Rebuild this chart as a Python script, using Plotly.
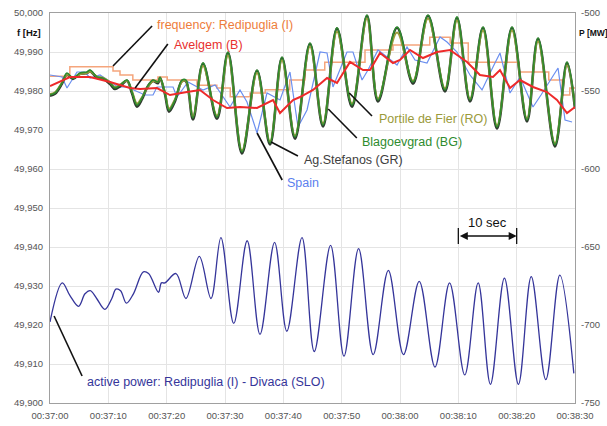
import pandas as pd
import plotly.graph_objects as go

# ---------------- data ----------------
BASE = pd.Timestamp("2009-01-01 00:37:00")

# frequency: Redipuglia (I) - step trace (s, Hz)
redi_t = [0, 3.4, 10.8, 12.0, 14.2, 18.5, 20.1, 25.2, 28.6, 30.9, 34.3, 36.9, 41.1, 43.7,
          47.1, 54.0, 58.8, 65.1, 68.6, 71.7, 80.4, 85.5, 87.8, 89.1, 90.0]
redi_f = [49.9838, 49.9862, 49.9851, 49.9841, 49.9828, 49.9836, 49.9828, 49.9815, 49.9808,
          49.9785, 49.9795, 49.9803, 49.9828, 49.9854, 49.9874, 49.9905, 49.9918, 49.9938,
          49.9923, 49.9874, 49.9849, 49.9828, 49.9790, 49.9808, 49.9808]

# Avelgem (B)
avel_t = [0, 2.23, 3.43, 6.86, 10.29, 13.71, 15.43, 18.34, 20.57, 23.49, 25.71, 27.94, 30.34,
          32.57, 35.49, 38.23, 39.43, 41.66, 42.86, 45.09, 47.49, 49.2, 51.43, 53.66, 54.86,
          56.57, 58.8, 60.0, 61.71, 63.94, 66.34, 68.57, 71.49, 73.71, 75.94, 77.14, 78.86,
          80.57, 82.8, 85.2, 86.91, 88.63, 90.0]
avel_f = [49.98128, 49.98282, 49.98359, 49.98359, 49.98231, 49.98077, 49.98051, 49.98077,
          49.97897, 49.97974, 49.98026, 49.97769, 49.97564, 49.97590, 49.97564, 49.97769,
          49.97436, 49.97769, 49.97846, 49.98026, 49.98333, 49.98205, 49.98744, 49.98538,
          49.98538, 49.98974, 49.98718, 49.98795, 49.99051, 49.98846, 49.99000, 49.99051,
          49.98744, 49.98410, 49.98359, 49.98538, 49.98077, 49.98282, 49.98103, 49.97974,
          49.97769, 49.97436, 49.97590]

# Spain
spain_t = [0, 2.06, 2.91, 4.63, 6.0, 6.86, 8.57, 11.66, 13.2, 16.29, 17.66, 18.34, 21.09,
           21.77, 23.66, 26.23, 28.29, 30.86, 32.57, 33.77, 35.49, 37.2, 39.43, 41.14, 42.51,
           44.06, 46.29, 47.49, 48.51, 50.91, 51.94, 53.49, 54.51, 56.23, 57.77, 59.49, 61.2,
           62.57, 64.63, 66.86, 68.06, 69.77, 72.0, 74.06, 75.94, 77.14, 78.86, 80.57, 82.8,
           84.17, 87.09, 88.29, 89.49]
spain_f = [49.98410, 49.98359, 49.98077, 49.98487, 49.98487, 49.98333, 49.98410, 49.98103,
           49.98103, 49.97897, 49.97897, 49.98103, 49.98103, 49.97846, 49.98231, 49.98026,
           49.98154, 49.97590, 49.98026, 49.97718, 49.96923, 49.97949, 49.97769, 49.98487,
           49.97077, 49.97513, 49.99000, 49.98974, 49.98103, 49.99000, 49.99000, 49.98282,
           49.98538, 49.99051, 49.98872, 49.98667, 49.99128, 49.98795, 49.98718, 49.99385,
           49.99256, 49.99000, 49.98410, 49.98026, 49.98615, 49.98974, 49.97949, 49.98359,
           49.97590, 49.97897, 49.98590, 49.97256, 49.97205]

# green group (Blagoevgrad / Ag.Stefanos / Portile de Fier) share sample times
grn_t = [0, 0.86, 2.06, 2.91, 3.94, 5.14, 6.34, 6.86, 8.06, 9.09,
         10.29, 11.14, 12.0, 13.2, 14.06, 14.91, 15.77, 16.63, 17.66, 18.51,
         18.86, 19.71, 20.4, 21.43, 22.63, 23.31, 24.51, 26.23, 28.63, 30.51,
         32.91, 35.49, 37.71, 39.77, 42.0, 44.57, 46.8, 49.2, 51.77, 54.34,
         56.23, 59.49, 62.23, 64.8, 67.71, 69.77, 72.0, 74.23, 76.63, 79.2,
         81.77, 83.66, 86.57, 88.63, 90.0]
blag_f = [49.9790, 49.9795, 49.9821, 49.9846, 49.9833, 49.9846, 49.9849, 49.9854, 49.9836, 49.9833,
          49.9821, 49.9808, 49.9815, 49.9828, 49.9797, 49.9764, 49.9782, 49.9810, 49.9828, 49.9823,
          49.9836, 49.9795, 49.9751, 49.9777, 49.9828, 49.9828, 49.9731, 49.9872, 49.9733, 49.9900,
          49.9644, 49.9854, 49.9667, 49.9887, 49.9682, 49.9923, 49.9713, 49.9962, 49.9764, 49.9995,
          49.9777, 49.9964, 49.9823, 49.9995, 49.9803, 49.9990, 49.9777, 49.9964, 49.9708, 49.9964,
          49.9726, 49.9936, 49.9662, 49.9874, 49.9759]
stef_f = [49.9788, 49.9793, 49.9819, 49.9843, 49.9831, 49.9844, 49.9846, 49.9851, 49.9834, 49.9831,
          49.9818, 49.9805, 49.9812, 49.9826, 49.9794, 49.9760, 49.9779, 49.9808, 49.9826, 49.9820,
          49.9833, 49.9792, 49.9747, 49.9774, 49.9826, 49.9825, 49.9727, 49.9870, 49.9729, 49.9898,
          49.9640, 49.9852, 49.9663, 49.9885, 49.9678, 49.9921, 49.9709, 49.9960, 49.9760, 49.9993,
          49.9773, 49.9962, 49.9819, 49.9993, 49.9799, 49.9988, 49.9773, 49.9962, 49.9704, 49.9962,
          49.9722, 49.9934, 49.9658, 49.9872, 49.9755]
port_f = [49.9792, 49.9797, 49.9822, 49.9842, 49.9834, 49.9843, 49.9846, 49.9850, 49.9837, 49.9834,
          49.9822, 49.9810, 49.9816, 49.9826, 49.9799, 49.9768, 49.9784, 49.9808, 49.9825, 49.9824,
          49.9833, 49.9797, 49.9755, 49.9779, 49.9824, 49.9826, 49.9735, 49.9864, 49.9737, 49.9891,
          49.9648, 49.9846, 49.9671, 49.9879, 49.9686, 49.9914, 49.9717, 49.9952, 49.9768, 49.9986,
          49.9781, 49.9950, 49.9826, 49.9986, 49.9807, 49.9981, 49.9781, 49.9955, 49.9712, 49.9955,
          49.9730, 49.9927, 49.9666, 49.9866, 49.9762]

# active power: Redipuglia (I) - Divaca (SLO)  (s, MW)
pow_t = [0, 2.1, 3.4, 4.9, 6.0, 6.9, 8.0, 9.4, 10.6, 11.3, 12.1, 13.1, 14.3, 16.0, 16.9, 18.6,
         19.1, 19.7, 21.6, 23.3, 25.6, 27.6, 29.3, 31.5, 33.8, 36.0, 38.5, 40.6, 43.2, 45.3,
         48.1, 50.4, 52.9, 55.4, 58.0, 60.6, 63.3, 66.0, 68.5, 71.1, 73.4, 75.5, 77.9, 80.3,
         82.5, 85.0, 87.4, 89.8]
pow_mw = [-698, -673, -681, -688, -680, -678, -683, -690, -683, -677, -678, -686, -680, -666,
          -667, -679, -673, -673, -667, -683, -656, -683, -644, -699, -646, -706, -647, -704,
          -644, -717, -649, -720, -651, -719, -665, -719, -672, -727, -673, -732, -673, -738,
          -670, -738, -669, -735, -668, -731]

f_ticks = [49.90, 49.91, 49.92, 49.93, 49.94, 49.95, 49.96, 49.97, 49.98, 49.99, 50.00]
f_tick_text = ["49,900", "49,910", "49,920", "49,930", "49,940", "49,950", "49,960",
               "49,970", "49,980", "49,990", "50,000"]
p_ticks = [-750, -700, -650, -600, -550, -500]
p_tick_text = ["-750", "-700", "-650", "-600", "-550", "-500"]


def T(s):
    return BASE + pd.to_timedelta(s, unit="s")


def TS(s):
    return T(s).strftime("%Y-%m-%d %H:%M:%S.%f")


def times(lst):
    return [T(s) for s in lst]


FONT = "Liberation Sans, Arial, sans-serif"
fig = go.Figure()

fig.add_trace(go.Scatter(x=times(redi_t), y=redi_f, mode="lines", line_shape="hv",
                         line=dict(color="#f5a57c", width=1.5), name="Redipuglia"))
fig.add_trace(go.Scatter(x=times(spain_t), y=spain_f, mode="lines",
                         line=dict(color="#6b8ff0", width=1.2), name="Spain"))
fig.add_trace(go.Scatter(x=times(grn_t), y=stef_f, mode="lines", line_shape="spline",
                         line=dict(color="#2f3a2f", width=2.6, smoothing=1.0), name="Ag.Stefanos"))
fig.add_trace(go.Scatter(x=times(grn_t), y=port_f, mode="lines", line_shape="spline",
                         line=dict(color="#9c9a3c", width=2.0, smoothing=1.0), name="Portile de Fier"))
fig.add_trace(go.Scatter(x=times(grn_t), y=blag_f, mode="lines", line_shape="spline",
                         line=dict(color="#2e8b2e", width=1.6, smoothing=1.0), name="Blagoevgrad"))
fig.add_trace(go.Scatter(x=times(avel_t), y=avel_f, mode="lines",
                         line=dict(color="#ee2a2a", width=2), name="Avelgem"))
fig.add_trace(go.Scatter(x=times(pow_t), y=pow_mw, mode="lines", line_shape="spline",
                         line=dict(color="#35359a", width=1.3), name="active power",
                         yaxis="y2"))

# ---- labels with leader lines (positions in data units) ----
labels = [
    ("frequency: Redipuglia (I)", "#ee7d3b", 18.0, 49.99692, (17.5, 49.99667), (10.8, 49.98641)),
    ("Avelgem (B)", "#e8302e", 20.9, 49.99179, (20.2, 49.99205), (14.6, 49.98077)),
    ("Portile de Fier (RO)", "#9a9a3a", 56.1, 49.97282, (55.2, 49.97359), (51.3, 49.97949)),
    ("Blagoevgrad (BG)", "#2e8b2e", 53.1, 49.96692, (52.6, 49.96795), (47.7, 49.97538)),
    ("Ag.Stefanos (GR)", "#404040", 43.2, 49.96231, (42.5, 49.96333), (37.9, 49.96692)),
    ("Spain", "#5b7fee", 40.3, 49.95641, (39.8, 49.95718), (35.5, 49.96923)),
    ("active power: Redipuglia (I) - Divaca (SLO)", "#35359a", 6.0, 49.90538,
     (5.5, 49.90692), (0.7, 49.92231)),
]
shapes = []
annotations = []
for text, col, tx, ty, p0, p1 in labels:
    annotations.append(dict(x=TS(tx), y=ty, xref="x", yref="y", text=text, showarrow=False,
                            xanchor="left", yanchor="middle",
                            font=dict(family=FONT, size=12.5, color=col)))
    shapes.append(dict(type="line", xref="x", yref="y", x0=TS(p0[0]), y0=p0[1],
                       x1=TS(p1[0]), y1=p1[1], line=dict(color="#111111", width=1.6)))

# 10 sec scale marker
annotations.append(dict(x=TS(75), y=49.94641, xref="x", yref="y", text="10 sec",
                        showarrow=False, font=dict(family=FONT, size=13, color="#111111")))
annotations.append(dict(x=TS(80), y=49.94282, ax=TS(70), ay=49.94282, xref="x", yref="y",
                        axref="x", ayref="y", text="", showarrow=True, arrowside="end+start",
                        arrowhead=2, arrowsize=1, arrowwidth=1.6, arrowcolor="#111111"))
for s in (70, 80):
    shapes.append(dict(type="line", xref="x", yref="y", x0=TS(s), x1=TS(s), y0=49.9449,
                       y1=49.9408, line=dict(color="#111111", width=1.3)))

# axis titles
annotations.append(dict(xref="paper", yref="paper", x=-0.067, y=0.951, text="<b>f [Hz]</b>",
                        showarrow=False, xanchor="left", yanchor="middle",
                        font=dict(family=FONT, size=9.5, color="#111111")))
annotations.append(dict(xref="paper", yref="paper", x=1.004, y=0.949, text="<b>P [MW]</b>",
                        showarrow=False, xanchor="left", yanchor="middle",
                        font=dict(family=FONT, size=8.5, color="#111111")))

fig.update_layout(
    width=607, height=426,
    margin=dict(l=50, r=32, t=13, b=23),
    paper_bgcolor="white", plot_bgcolor="white",
    showlegend=False,
    font=dict(family=FONT),
    shapes=shapes, annotations=annotations,
    xaxis=dict(type="date", range=[TS(0), TS(90)], dtick=10000, tick0=TS(0),
               tickformat="%H:%M:%S", showgrid=True, gridcolor="#e4e4e4", gridwidth=1,
               showline=True, linecolor="#a0a0a0", linewidth=1.2, mirror=True, ticks="",
               automargin=False, ticklabelstandoff=3,
               tickfont=dict(family=FONT, size=9.5, color="#555555"), zeroline=False),
    yaxis=dict(range=[49.9, 50.0], tickvals=f_ticks, ticktext=f_tick_text, showgrid=True,
               gridcolor="#e4e4e4", gridwidth=1, showline=True, linecolor="#a0a0a0",
               linewidth=1.2, mirror=True, ticks="", zeroline=False, ticklabelstandoff=4,
               automargin=False,
               tickfont=dict(family=FONT, size=9.5, color="#555555")),
    yaxis2=dict(range=[-750, -500], overlaying="y", side="right", tickvals=p_ticks,
                ticktext=p_tick_text, showgrid=False, zeroline=False, ticks="",
                ticklabelstandoff=5, automargin=False,
                tickfont=dict(family=FONT, size=9.5, color="#555555")),
)

fig.write_html("out.html")
